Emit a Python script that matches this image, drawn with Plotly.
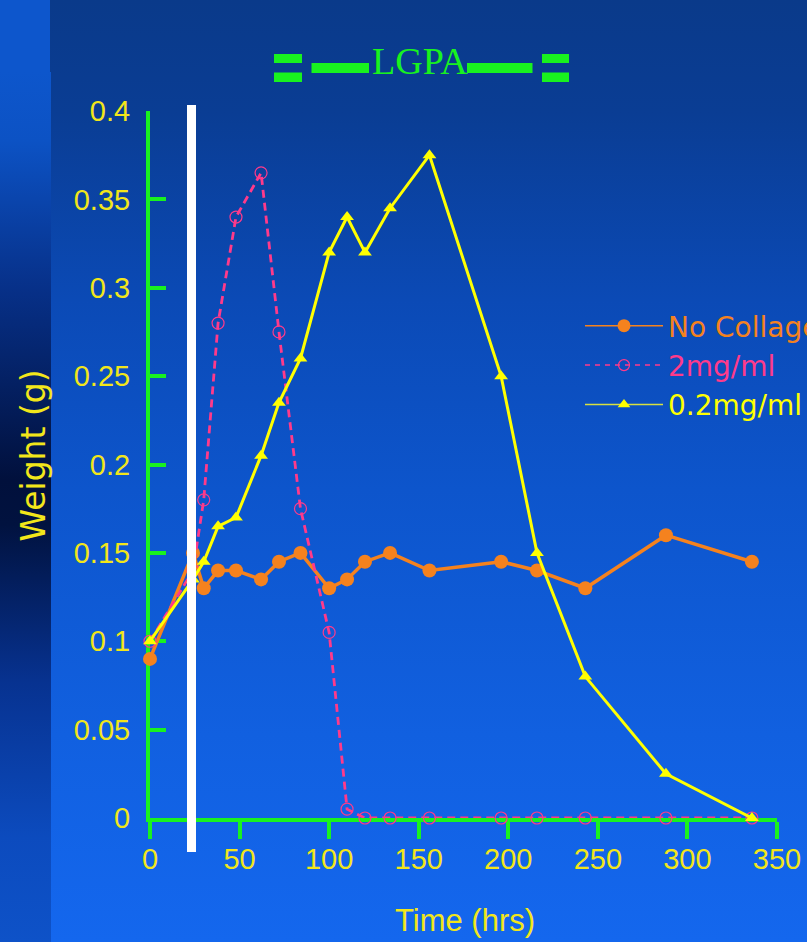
import base64
import plotly.graph_objects as go

# Sampling times (hours) shared by all three groups
time_hrs = [0, 24, 30, 38, 48, 62, 72, 84, 100, 110, 120, 134, 156, 196, 216, 243, 288, 336]

# Gel weight (g) for each condition
no_collagen = [0.09, 0.15, 0.13, 0.14, 0.14, 0.135, 0.145, 0.15, 0.13, 0.135,
               0.145, 0.15, 0.14, 0.145, 0.14, 0.13, 0.16, 0.145]
collagen_2mg = [0.10, 0.14, 0.18, 0.28, 0.34, 0.365, 0.275, 0.175, 0.105, 0.005,
                0.0, 0.0, 0.0, 0.0, 0.0, 0.0, 0.0, 0.0]
collagen_02mg = [0.10, 0.135, 0.145, 0.165, 0.17, 0.205, 0.235, 0.26, 0.32, 0.34,
                 0.32, 0.345, 0.375, 0.25, 0.15, 0.08, 0.025, 0.0]

series_names = ["No Collagen", "2mg/ml", "0.2mg/ml"]
x_ticks = [0, 50, 100, 150, 200, 250, 300, 350]
y_ticks = [0, 0.05, 0.1, 0.15, 0.2, 0.25, 0.3, 0.35, 0.4]

ORANGE = "#f5821e"
PINK = "#ff3a8a"
YELLOW = "#ffff00"
GREEN = "#19f21f"
TEXT_YELLOW = "#f2e61a"
FONT = "Liberation Sans, Arial, sans-serif"
WIDE_FONT = "DejaVu Sans, Verdana, sans-serif"

W, H = 807, 942
PL, PR, PT, PB = 150, 777, 111, 818


def px_x(px):
    return (px - PL) / (PR - PL)


def px_y(py):
    return (PB - py) / (PB - PT)


# Slide-style background: blue vertical gradient with a darker strip on the left
bg_svg = f"""<svg xmlns='http://www.w3.org/2000/svg' width='{W}' height='{H}' viewBox='0 0 {W} {H}' preserveAspectRatio='none'>
<defs>
<linearGradient id='m' x1='0' y1='0' x2='0' y2='1'>
<stop offset='0' stop-color='#0a3a8a'/>
<stop offset='0.12' stop-color='#0a3d94'/>
<stop offset='0.32' stop-color='#0b4ab6'/>
<stop offset='0.52' stop-color='#0d55cc'/>
<stop offset='0.78' stop-color='#1160e0'/>
<stop offset='1' stop-color='#1467ee'/>
</linearGradient>
<linearGradient id='s' x1='0' y1='0' x2='0' y2='1'>
<stop offset='0' stop-color='#0d56cc'/>
<stop offset='0.08' stop-color='#0c52c4'/>
<stop offset='0.25' stop-color='#073088'/>
<stop offset='0.47' stop-color='#01103c'/>
<stop offset='0.52' stop-color='#01123f'/>
<stop offset='0.70' stop-color='#073290'/>
<stop offset='0.88' stop-color='#0c4bbe'/>
<stop offset='1' stop-color='#0e52c8'/>
</linearGradient>
</defs>
<rect x='0' y='0' width='{W}' height='{H}' fill='url(#m)'/>
<rect x='0' y='72' width='51' height='{H - 72}' fill='url(#s)'/>
<rect x='0' y='0' width='50' height='72' fill='#0d56cc'/>
</svg>"""
bg_uri = "data:image/svg+xml;base64," + base64.b64encode(bg_svg.encode()).decode()

fig = go.Figure()

fig.add_trace(go.Scatter(
    x=time_hrs, y=no_collagen, mode="lines+markers", showlegend=False,
    line=dict(color=ORANGE, width=3.5),
    marker=dict(symbol="circle", size=14, color=ORANGE),
    cliponaxis=False,
))
fig.add_trace(go.Scatter(
    x=time_hrs, y=collagen_2mg, mode="lines+markers", showlegend=False,
    line=dict(color=PINK, width=2.8, dash="8px,5px"),
    marker=dict(symbol="circle-open", size=12, color=PINK, line=dict(width=1.2)),
    cliponaxis=False,
))
fig.add_trace(go.Scatter(
    x=time_hrs, y=collagen_02mg, mode="lines+markers", showlegend=False,
    line=dict(color=YELLOW, width=3),
    marker=dict(symbol="triangle-up", size=12, color=YELLOW),
    cliponaxis=False,
))

# Legend entries with thin sample lines
legend_styles = [
    dict(line=dict(color=ORANGE, width=1.5),
         marker=dict(symbol="circle", size=13, color=ORANGE), color=ORANGE),
    dict(line=dict(color=PINK, width=1.5, dash="5px,5px"),
         marker=dict(symbol="circle-open", size=11, color=PINK, line=dict(width=1.2)), color=PINK),
    dict(line=dict(color="#d8e040", width=1.5),
         marker=dict(symbol="triangle-up", size=11, color=YELLOW), color=YELLOW),
]
for name, st in zip(series_names, legend_styles):
    fig.add_trace(go.Scatter(
        x=[None], y=[None], mode="lines+markers",
        name=f"<span style='color:{st['color']}'>{name}</span>",
        line=st["line"], marker=st["marker"],
    ))

axis_common = dict(
    showgrid=False, zeroline=False, showline=True, linecolor=GREEN, linewidth=4,
    tickcolor=GREEN, tickwidth=4, layer="below traces",
    tickfont=dict(family=FONT, size=29, color=TEXT_YELLOW),
)

fig.update_xaxes(range=[0, 350], tickvals=x_ticks, ticks="outside", ticklen=17,
                 ticklabelstandoff=-5, **axis_common)
fig.update_yaxes(range=[0, 0.4], tickvals=y_ticks, ticks="inside", ticklen=16,
                 ticklabelstandoff=10, **axis_common)

shapes = [
    # white marker bar
    dict(type="rect", xref="paper", yref="paper",
         x0=px_x(187), x1=px_x(196), y0=px_y(852), y1=px_y(105),
         fillcolor="white", line=dict(width=0), layer="above"),
]
# title decoration bars
for (x0, x1, y0, y1) in [(274, 302, 54, 63), (274, 302, 72.5, 82),
                         (311.5, 369, 63, 73), (467, 532.5, 63, 73),
                         (542, 569, 54, 63), (542, 569, 72.5, 82)]:
    shapes.append(dict(type="rect", xref="paper", yref="paper",
                       x0=px_x(x0), x1=px_x(x1), y0=px_y(y1), y1=px_y(y0),
                       fillcolor=GREEN, line=dict(width=0), layer="above"))

annotations = [
    dict(text="LGPA", xref="paper", yref="paper", x=px_x(419.5), y=px_y(60.5),
         xanchor="center", yanchor="middle", showarrow=False,
         font=dict(family="Liberation Serif, Times New Roman, serif", size=38, color=GREEN)),
    dict(text="Time (hrs)", xref="paper", yref="paper", x=px_x(465), y=px_y(920),
         xanchor="center", yanchor="middle", showarrow=False,
         font=dict(family=FONT, size=31, color=TEXT_YELLOW)),
    dict(text="Weight (g)", xref="paper", yref="paper", x=px_x(32.5), y=px_y(456),
         xanchor="center", yanchor="middle", showarrow=False, textangle=-90,
         font=dict(family=WIDE_FONT, size=33, color=TEXT_YELLOW)),
]

fig.update_layout(
    width=W, height=H,
    margin=dict(l=PL, r=W - PR, t=PT, b=H - PB, pad=0, autoexpand=False),
    paper_bgcolor="#0d4fc4", plot_bgcolor="rgba(0,0,0,0)",
    images=[dict(source=bg_uri, xref="paper", yref="paper",
                 x=px_x(0), y=px_y(0), sizex=W / (PR - PL), sizey=H / (PB - PT),
                 xanchor="left", yanchor="top", sizing="stretch", layer="below")],
    shapes=shapes, annotations=annotations,
    legend=dict(x=px_x(580), y=px_y(301), xanchor="left", yanchor="top",
                bgcolor="rgba(0,0,0,0)", borderwidth=0, itemwidth=78,
                font=dict(family=WIDE_FONT, size=28, color=ORANGE), tracegroupgap=0),
    showlegend=True,
)

fig.write_html("out.html")
